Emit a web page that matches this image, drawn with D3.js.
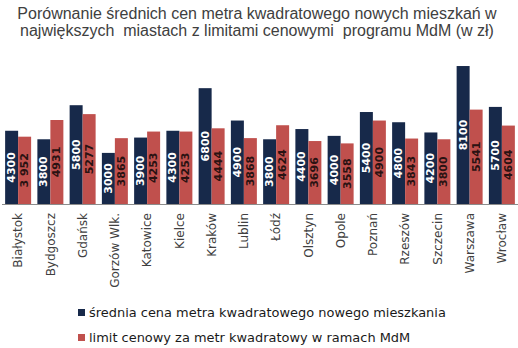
<!DOCTYPE html>
<html>
<head>
<meta charset="utf-8">
<script src="https://cdn.jsdelivr.net/npm/d3@7/dist/d3.min.js"></script>
<style>
  html, body { margin: 0; padding: 0; background: #fff; }
  svg { display: block; }
  .title { white-space: pre; }
</style>
</head>
<body>
<svg id="chart" width="518" height="348"></svg>
<script>
// Average price per square metre of new flats vs. MdM programme price limits
const cities = ["Białystok", "Bydgoszcz", "Gdańsk", "Gorzów Wlk.", "Katowice", "Kielce", "Kraków", "Lublin",
  "Łódź", "Olsztyn", "Opole", "Poznań", "Rzeszów", "Szczecin", "Warszawa", "Wrocław"];
const avgPrice = [4300, 3800, 5800, 3000, 3900, 4300, 6800, 4900, 3800, 4400, 4000, 5400, 4800, 4200, 8100, 5700];
const mdmLimit = [3952, 4931, 5277, 3865, 4253, 4253, 4444, 3868, 4624, 3696, 3558, 4900, 3843, 3800, 5541, 4604];
const seriesNames = ["średnia cena metra kwadratowego nowego mieszkania", "limit cenowy za metr kwadratowy w ramach MdM"];
const titleLines = ["Porównanie średnich cen metra kwadratowego nowych mieszkań w", "największych  miastach z limitami cenowymi  programu MdM (w zł)"];

const colors = ["#17294a", "#c0504d"];
const labelColors = ["#ffffff", "#2a1212"];

const svg = d3.select("#chart");

// Title
svg.append("g").selectAll("text").data(titleLines).join("text")
  .attr("class", "title")
  .attr("x", 257).attr("y", (d, i) => 19 + i * 17)
  .attr("text-anchor", "middle")
  .attr("font-family", "Liberation Sans, Arial, sans-serif")
  .attr("font-size", 16)
  .attr("fill", "#404040")
  .text(d => d);

const baseY = 204;
const x = d3.scaleBand().domain(cities).range([2, 518]).paddingInner(0.194).paddingOuter(0.097);
const sub = d3.scaleBand().domain([0, 1]).range([0, x.bandwidth()]);
const y = d3.scaleLinear().domain([0, 9000]).range([baseY, baseY - 153.3]);

const rows = cities.map((c, i) => ({ city: c, vals: [avgPrice[i], mdmLimit[i]] }));
const fmt = v => (v === 3952 ? "3 952" : String(v));

const groups = svg.append("g").selectAll("g").data(rows).join("g")
  .attr("transform", d => `translate(${x(d.city)},0)`);

groups.selectAll("rect").data(d => d.vals.map((v, k) => ({ v, k }))).join("rect")
  .attr("x", d => sub(d.k))
  .attr("width", sub.bandwidth())
  .attr("y", d => y(d.v))
  .attr("height", d => y(0) - y(d.v))
  .attr("fill", d => colors[d.k]);

// Value labels, rotated and centred in each bar
groups.selectAll("text.val").data(d => d.vals.map((v, k) => ({ v, k }))).join("text")
  .attr("class", "val")
  .attr("transform", d => `translate(${sub(d.k) + sub.bandwidth() / 2},${(y(d.v) + y(0)) / 2}) rotate(-90)`)
  .attr("text-anchor", "middle")
  .attr("dominant-baseline", "central")
  .attr("font-family", "DejaVu Sans, sans-serif")
  .attr("font-weight", "bold")
  .attr("font-size", 11)
  .attr("fill", d => labelColors[d.k])
  .text(d => fmt(d.v));

// Category axis
const axis = svg.append("g").attr("transform", `translate(0,${baseY})`)
  .call(d3.axisBottom(x).tickSize(0).tickPadding(0));
axis.select(".domain").attr("stroke", "#8c8c8c").attr("d", "M2,0.5H518");
axis.selectAll(".tick text")
  .attr("transform", "translate(0,9) rotate(-90)")
  .attr("x", 0).attr("y", 0).attr("dy", "0.35em")
  .attr("text-anchor", "end")
  .attr("font-family", "DejaVu Sans, sans-serif")
  .attr("font-size", 12)
  .attr("fill", "#404040");

// Legend
const legend = svg.append("g").selectAll("g").data(seriesNames).join("g")
  .attr("transform", (d, i) => `translate(78,${309 + i * 25})`);
legend.append("rect").attr("width", 7).attr("height", 7).attr("fill", (d, i) => colors[i]);
const legendText = legend.append("text").attr("x", 11).attr("y", 7.5)
  .attr("font-family", "DejaVu Sans, sans-serif")
  .attr("font-size", 12)
  .attr("fill", "#1a1a1a")
  .text(d => d);
// size the legend font so the first entry spans 357px
const w0 = legendText.node().getComputedTextLength();
legendText.attr("font-size", 12 * 357 / w0);
</script>
</body>
</html>
